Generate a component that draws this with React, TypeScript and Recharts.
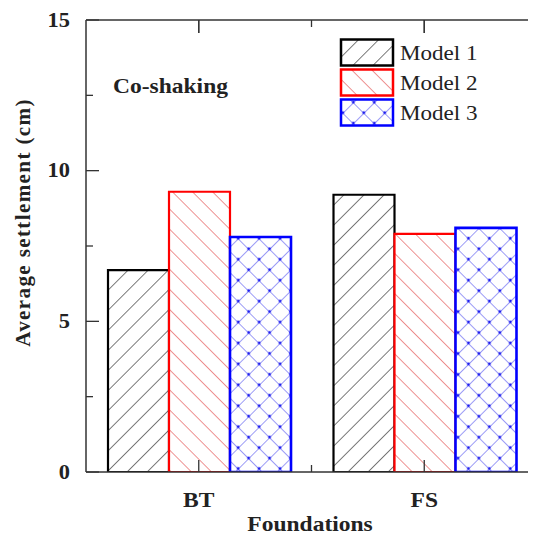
import React from 'react';
import { BarChart, Bar, XAxis, YAxis, Customized } from 'recharts';

const categories = ['BT', 'FS'];
const model1 = [6.7, 9.2];
const model2 = [9.3, 7.9];
const model3 = [7.8, 8.1];
const seriesNames = ['Model 1', 'Model 2', 'Model 3'];
const seriesColors = ['#000000', '#ff0000', '#0000ff'];
const yTicks = [0, 2.5, 5, 7.5, 10, 12.5, 15];
const yLabelled = [0, 5, 10, 15];
const annotation = 'Co-shaking';
const yTitle = 'Average settlement (cm)';
const xTitle = 'Foundations';

const data = categories.map((c, i) => ({ name: c, m1: model1[i], m2: model2[i], m3: model3[i] }));

const FONT = '"Liberation Serif", "Times New Roman", serif';
const AX = '#333';
const SX = 1.12;

// layout
const CHART_W = 540;
const CHART_H = 531;
const MARGIN = { top: 11, right: 11, bottom: 0, left: 0 };
const Y_W = 78;
const X_H = 67;
const TOP_H = 1;
const PLOT_L = MARGIN.left + Y_W;
const PLOT_R = CHART_W - MARGIN.right;
const PLOT_T = MARGIN.top + TOP_H;
const PLOT_B = CHART_H - MARGIN.bottom - X_H;
const BAND = (PLOT_R - PLOT_L) / categories.length;

const LeftTick = (props: any) => {
  const { x, y, payload } = props;
  const major = yLabelled.includes(payload.value);
  return (
    <g>
      <line x1={x} x2={x + (major ? 13 : 7)} y1={y} y2={y} stroke={AX} strokeWidth={1.3} />
      {major && (
        <text transform={`translate(${x - 16},${y}) scale(${SX},1)`} textAnchor="end" dominantBaseline="central"
          fontFamily={FONT} fontWeight="bold" fontSize={20} fill="#222">{payload.value}</text>
      )}
    </g>
  );
};

const RightTick = (props: any) => {
  const { x, y, payload } = props;
  const major = yLabelled.includes(payload.value);
  return <line x1={x} x2={x - (major ? 13 : 7)} y1={y} y2={y} stroke={AX} strokeWidth={1.3} />;
};

const BottomTick = (props: any) => {
  const { x, y, payload } = props;
  return (
    <g>
      <line x1={x} x2={x} y1={y} y2={y - 12} stroke={AX} strokeWidth={1.3} />
      <text transform={`translate(${x},${y + 35}) scale(${SX},1)`} textAnchor="middle"
        fontFamily={FONT} fontWeight="bold" fontSize={21} fill="#222">{payload.value}</text>
    </g>
  );
};

const TopTick = (props: any) => {
  const { x, y } = props;
  return <line x1={x} x2={x} y1={y} y2={y + 13} stroke={AX} strokeWidth={1.3} />;
};

const patternIds = ['hatchA', 'hatchB', 'hatchC'];

const Extras = () => (
  <g>
    <defs>
      <pattern id="hatchA" patternUnits="userSpaceOnUse" width={14.2} height={14.2} patternTransform="rotate(45)">
        <rect width={14.2} height={14.2} fill="#fff" />
        <line x1={0} y1={0} x2={0} y2={14.2} stroke="#222" strokeWidth={1.2} />
      </pattern>
      <pattern id="hatchB" patternUnits="userSpaceOnUse" width={14.2} height={14.2} patternTransform="rotate(-45)">
        <rect width={14.2} height={14.2} fill="#fff" />
        <line x1={0} y1={0} x2={0} y2={14.2} stroke="#e03a3a" strokeWidth={1.1} />
      </pattern>
      <pattern id="hatchC" patternUnits="userSpaceOnUse" width={14.8} height={14.8} patternTransform="rotate(45)">
        <rect width={14.8} height={14.8} fill="#fff" />
        <line x1={0} y1={0} x2={0} y2={14.8} stroke="#4a4af0" strokeWidth={1.1} />
        <line x1={0} y1={0} x2={14.8} y2={0} stroke="#4a4af0" strokeWidth={1.1} />
        <circle cx={0} cy={0} r={1.5} fill="#2020f0" />
        <circle cx={14.8} cy={0} r={1.5} fill="#2020f0" />
        <circle cx={0} cy={14.8} r={1.5} fill="#2020f0" />
        <circle cx={14.8} cy={14.8} r={1.5} fill="#2020f0" />
      </pattern>
    </defs>
    {categories.map((c, i) => {
      const cx = PLOT_L + BAND * (i + 0.5);
      return <line key={`tc${c}`} x1={cx} x2={cx} y1={PLOT_T} y2={PLOT_T + 13} stroke={AX} strokeWidth={1.3} />;
    })}
    {categories.slice(1).map((c, i) => {
      const bx = PLOT_L + BAND * (i + 1);
      return (
        <g key={`b${c}`}>
          <line x1={bx} x2={bx} y1={PLOT_T} y2={PLOT_T + 7} stroke={AX} strokeWidth={1.3} />
          <line x1={bx} x2={bx} y1={PLOT_B} y2={PLOT_B - 7} stroke={AX} strokeWidth={1.3} />
        </g>
      );
    })}
    <text transform={`translate(105,85) scale(${SX},1)`} fontFamily={FONT} fontWeight="bold" fontSize={21} fill="#222">{annotation}</text>
    <text transform="translate(14.5,214.5) rotate(-90)" textAnchor="middle" dominantBaseline="central"
      fontFamily={FONT} fontWeight="bold" fontSize={21} letterSpacing={1.4} fill="#222">{yTitle}</text>
    <text transform={`translate(302,523) scale(${SX},1)`} textAnchor="middle" fontFamily={FONT} fontWeight="bold" fontSize={21} fill="#222">{xTitle}</text>
    {seriesNames.map((n, i) => (
      <g key={n}>
        <rect x={333} y={31.5 + i * 30} width={52} height={26} fill={`url(#${patternIds[i]})`} stroke={seriesColors[i]} strokeWidth={2.5} />
        <text transform={`translate(392,${45 + i * 30}) scale(1.1,1)`} dominantBaseline="central" fontFamily={FONT} fontSize={21} fill="#222">{n}</text>
      </g>
    ))}
  </g>
);

export default function App() {
  return (
    <div style={{ width: 528, height: 531, overflow: 'hidden', background: '#fff' }}>
      <BarChart width={CHART_W} height={CHART_H} data={data} margin={MARGIN}
        barCategoryGap={22} barGap={0}>
        <XAxis xAxisId="cat" dataKey="name" height={X_H} tickSize={0} tickMargin={0} tickLine={false}
          tick={<BottomTick />} interval={0} padding={{ left: 0, right: 0 }} axisLine={{ stroke: AX, strokeWidth: 1.5 }} />
        <XAxis xAxisId="top" dataKey="name" orientation="top" height={TOP_H} tickSize={0} tickMargin={0} tickLine={false}
          tick={<TopTick />} interval={0} padding={{ left: 0, right: 0 }} axisLine={{ stroke: AX, strokeWidth: 1.5 }} />
        <YAxis yAxisId="left" domain={[0, 15]} ticks={yTicks} width={Y_W} tickSize={0} tickMargin={0} tickLine={false}
          tick={<LeftTick />} interval={0} allowDataOverflow axisLine={{ stroke: AX, strokeWidth: 1.5 }} />
        <YAxis yAxisId="right" orientation="right" domain={[0, 15]} ticks={yTicks} width={0} tickSize={0} tickMargin={0} tickLine={false}
          tick={<RightTick />} interval={0} allowDataOverflow axisLine={{ stroke: AX, strokeWidth: 1.5 }} />
        <Bar xAxisId="cat" yAxisId="left" dataKey="m1" name={seriesNames[0]} fill="url(#hatchA)" stroke={seriesColors[0]} strokeWidth={2.2} isAnimationActive={false} />
        <Bar xAxisId="cat" yAxisId="left" dataKey="m2" name={seriesNames[1]} fill="url(#hatchB)" stroke={seriesColors[1]} strokeWidth={2.2} isAnimationActive={false} />
        <Bar xAxisId="cat" yAxisId="left" dataKey="m3" name={seriesNames[2]} fill="url(#hatchC)" stroke={seriesColors[2]} strokeWidth={2.6} isAnimationActive={false} />
        <Customized component={Extras} />
      </BarChart>
    </div>
  );
}
